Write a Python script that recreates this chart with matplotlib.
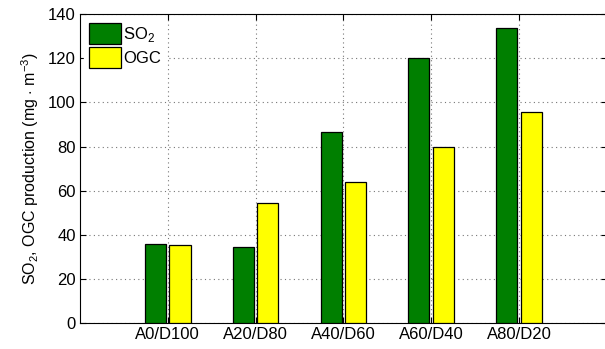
import numpy as np
import matplotlib
matplotlib.use('Agg')
import matplotlib.pyplot as plt

categories = ['A0/D100', 'A20/D80', 'A40/D60', 'A60/D40', 'A80/D20']
so2 = [35.8, 34.3, 86.8, 120.3, 133.7]
ogc = [35.2, 54.3, 63.8, 79.6, 95.7]

plt.rcParams['font.family'] = ['Liberation Sans', 'DejaVu Sans']
plt.rcParams['mathtext.fontset'] = 'custom'
plt.rcParams['mathtext.rm'] = 'Liberation Sans'

fig = plt.figure(figsize=(6.05, 3.49), dpi=100)
ax = fig.add_axes([0.132, 0.0745, 0.871, 0.885])

x = np.arange(1, len(categories) + 1)
w = 0.24
ax.bar(x - 0.14, so2, w, color='#007f00', edgecolor='black', linewidth=0.9, label='SO$_2$', zorder=3)
ax.bar(x + 0.14, ogc, w, color='#ffff00', edgecolor='black', linewidth=0.9, label='OGC', zorder=3)

ax.set_xlim(0, 6)
ax.set_ylim(0, 140)
ax.set_xticks(x)
ax.set_xticklabels(categories)
ax.set_yticks(range(0, 141, 20))
ax.tick_params(direction='in', top=True, right=True, labelsize=12, length=4, pad=3)
ax.grid(True, linestyle=(0, (1, 3)), color='#777777', linewidth=0.8, zorder=0)
ax.set_ylabel('SO$_2$, OGC production (mg $\\cdot$ m$^{-3}$)', fontsize=11.5, labelpad=5)

ax.legend(loc='upper left', fontsize=12, frameon=True, fancybox=False, edgecolor='white',
          framealpha=1, handlelength=1.9, handleheight=1.55, handletextpad=0.15,
          labelspacing=0.15, borderaxespad=0.25, borderpad=0.3)

fig.savefig('out.png', dpi=100)
